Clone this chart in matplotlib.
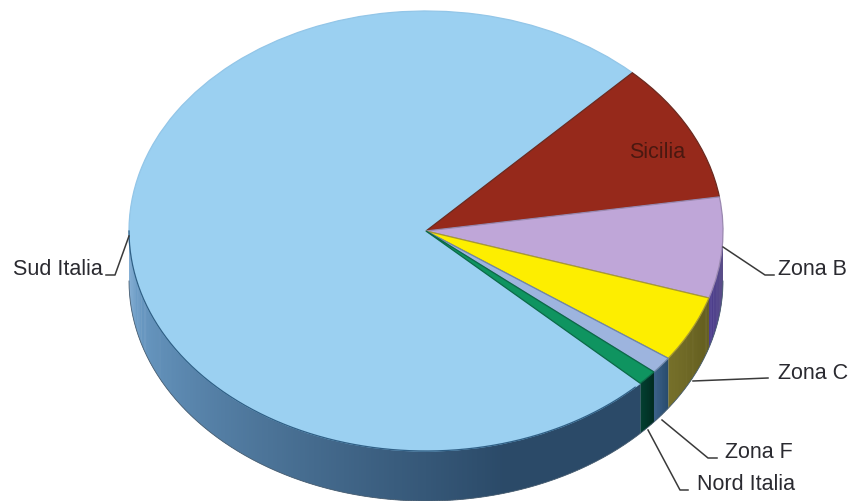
# -*- coding: utf-8 -*-
import numpy as np
import matplotlib
matplotlib.use('Agg')
import matplotlib.pyplot as plt
from matplotlib.transforms import Affine2D

W, H = 856, 502

# slices, clockwise starting from the Sud Italia / Sicilia boundary
names = ['Sicilia', 'Zona B', 'Zona C', 'Zona F', 'Nord Italia', 'Sud Italia']
values = [10.3, 7.4, 4.9, 1.25, 1.1, 75.05]
top_colors = ['#96291b', '#bfa6d8', '#fdee00', '#9db4de', '#0f9460', '#9bd0f1']
edge_colors = ['#6b2a20', '#9a88b0', '#a89a30', '#6f86a8', '#0b6a48', '#93c6e8']
# side wall colour at the light end and the dark end of the shading
side_light = ['#96291b', '#4f4090', '#76702a', '#3b6088', '#033f30', '#73a6d2']
side_dark = ['#96291b', '#3a2c6c', '#625c1e', '#264a6c', '#012a20', '#2b4a68']

start_angle = 46
cx, cy = 426, 232
rx, ry = 297, 220
depth = 50

# label text: x, y (image pixels), ha
label_pos = {'Sicilia': (657, 153, 'center'), 'Zona B': (778, 270, 'left'),
             'Zona C': (778, 374, 'left'), 'Zona F': (725, 453, 'left'),
             'Nord Italia': (697, 485, 'left'), 'Sud Italia': (13, 270, 'left')}
# leader lines in image pixels
leaders = [[(129, 237), (115, 276), (106, 276)],
           [(723, 248), (765, 276), (774, 276)],
           [(693, 382), (768, 379)],
           [(662, 421), (708, 459), (717, 459)],
           [(648, 431), (680, 491), (688, 491)]]

plt.rcParams['font.family'] = ['Liberation Sans', 'DejaVu Sans']


def mix(c1, c2, t):
    a = np.array(matplotlib.colors.to_rgb(c1))
    b = np.array(matplotlib.colors.to_rgb(c2))
    return tuple(a + (b - a) * t)


fig = plt.figure(figsize=(W / 100, H / 100), dpi=100, facecolor='white')
ax = fig.add_axes([0, 0, 1, 1])

wedges, _ = ax.pie(values, colors=top_colors, startangle=start_angle,
                   counterclock=False, radius=1,
                   wedgeprops={'linewidth': 0.9})
for w, ec, n in zip(wedges, edge_colors, names):
    w.set_edgecolor(ec)
    # the big slice goes underneath so the others keep their darker edges
    w.set_zorder(4 if n == 'Sud Italia' else 5)

ax.set_aspect('auto')
ax.set_xlim(-cx / rx, (W - cx) / rx)
ax.set_ylim(-(H - cy) / ry, cy / ry)
ax.axis('off')

# side wall, drawn as thin strips along the lower half of the ellipse
d = depth / ry
ang = start_angle
for val, lo, hi, n in zip(values, side_light, side_dark, names):
    end = ang - val * 3.6
    # Sud Italia wraps round past the back of the pie, only the front shows
    a1, a2 = max(end, -180), min(ang, 0)
    if a2 > a1:
        steps = np.arange(a1, a2 + 0.5, 0.5)
        for t0, t1 in zip(steps[:-1], steps[1:]):
            # shade goes from light on the left (-180) to dark near -90
            if n == 'Sud Italia':
                s = np.clip((t0 + 180) / 105, 0, 1)
            else:
                s = (t0 - a1) / max(a2 - a1, 1e-6)
            th = np.radians([t0, min(t1 + 0.3, a2), min(t1 + 0.3, a2), t0])
            xs = np.cos(th)
            ys = np.sin(th) - np.array([0, 0, d, d])
            ax.fill(xs, ys, color=mix(lo, hi, s), lw=0, zorder=2)
    ang = end

# rim of the side wall, a soft dark edge at the bottom
th = np.radians(np.linspace(-180, 0, 200))
ax.plot(np.cos(th), np.sin(th) - d, color='#4a5f72', lw=0.6, zorder=3)
ax.plot(np.cos(th[:150]), np.sin(th[:150]), color='#2f5f85', lw=0.9, zorder=6)

# labels and leader lines are placed in image pixels
px = Affine2D().scale(1, -1).translate(0, H)
for n in names:
    x, y, ha = label_pos[n]
    col = '#4a1810' if n == 'Sicilia' else '#2a2a30'
    ax.text(x, y, n, transform=px, fontsize=15.5, color=col, ha=ha,
            va='center', zorder=8)
for pts in leaders:
    pts = np.array(pts)
    ax.plot(pts[:, 0], pts[:, 1], transform=px, color='#3a3a3a', lw=1.1,
            zorder=7, clip_on=False)

fig.savefig('out.png', dpi=100, facecolor='white')
